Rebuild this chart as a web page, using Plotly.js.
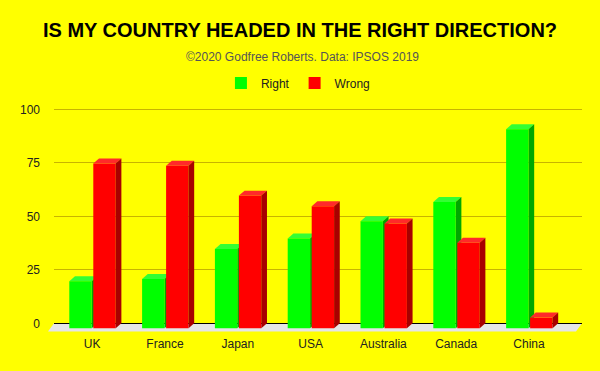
<!DOCTYPE html>
<html>
<head>
<meta charset="utf-8">
<script src="https://cdn.plot.ly/plotly-3.0.1.min.js"></script>
<style>
  html, body { margin: 0; padding: 0; background: #ffff00; }
  #chart { width: 600px; height: 371px; }
</style>
</head>
<body>
<div id="chart"></div>
<script>
// ---- data ----
const countries = ['UK', 'France', 'Japan', 'USA', 'Australia', 'Canada', 'China'];
const rightVals = [22, 23, 37, 42, 50, 59, 93];
const wrongVals = [77, 76, 62, 57, 49, 40, 5];
const yTickVals = [0, 25, 50, 75, 100];
const seriesNames = ['Right', 'Wrong'];
const titleText = 'IS MY COUNTRY HEADED IN THE RIGHT DIRECTION?';
const subtitleText = '©2020 Godfree Roberts. Data: IPSOS 2019';

// ---- styling / geometry ----
const idx = countries.map((_, i) => i);
const barW = 0.3077;
const offsets = [-0.3145, 0.0151];
const depthX = 0.078;   // x units
const depthY = 2.336;   // y units (front plane sits this much below the back plane)
const colors = {
  Right: { front: '#00ff00', top: '#33ff33', side: '#00a800' },
  Wrong: { front: '#ff0000', top: '#ff2a2a', side: '#a80000' }
};

// faces drawn on the back axis 'y': front-plane value v sits at v - depthY there
function faceShapes(vals, off, c, layer) {
  const out = [];
  vals.forEach((v, i) => {
    const xl = idx[i] + off, xr = xl + barW;
    const yf = v - depthY;
    out.push({
      type: 'path', xref: 'x', yref: 'y', layer: layer,
      path: `M${xl},${yf} L${xr},${yf} L${xr + depthX},${v} L${xl + depthX},${v} Z`,
      fillcolor: c.top, line: { width: 0 }
    });
    out.push({
      type: 'path', xref: 'x', yref: 'y', layer: layer,
      path: `M${xr},${-depthY} L${xr},${yf} L${xr + depthX},${v} L${xr + depthX},0 Z`,
      fillcolor: c.side, line: { width: 0 }
    });
  });
  return out;
}

const floorShape = {
  type: 'path', xref: 'paper', yref: 'paper', layer: 'below',
  path: 'M0,0.0498 L1,0.0498 L0.9886,0.0145 L-0.0114,0.0145 Z',
  fillcolor: '#e6e6e6', line: { width: 0 }
};

const shapes = [floorShape]
  .concat(faceShapes(rightVals, offsets[0], colors.Right, 'between'))
  .concat(faceShapes(wrongVals, offsets[1], colors.Wrong, 'above'));

const traces = [
  // empty trace that keeps the back (gridline) axis in use
  { type: 'scatter', mode: 'markers', x: [], y: [], yaxis: 'y', showlegend: false, hoverinfo: 'skip' },
  {
    type: 'bar', name: seriesNames[0], x: idx, y: rightVals, yaxis: 'y2',
    width: barW, offset: offsets[0],
    marker: { color: colors.Right.front, line: { width: 0 } }
  },
  {
    type: 'bar', name: seriesNames[1], x: idx, y: wrongVals, yaxis: 'y2',
    width: barW, offset: offsets[1],
    marker: { color: colors.Wrong.front, line: { width: 0 } }
  }
];

const layout = {
  width: 600, height: 371,
  paper_bgcolor: '#ffff00', plot_bgcolor: 'rgba(0,0,0,0)',
  margin: { l: 54, r: 18, t: 100, b: 36, pad: 0 },
  font: { family: '"Liberation Sans", Arial, sans-serif', size: 12, color: '#222222' },
  title: {
    text: titleText, x: 0.5, xanchor: 'center', xref: 'container',
    y: 0.919, yanchor: 'middle', yref: 'container',
    font: { family: '"Liberation Sans", Arial, sans-serif', size: 20, weight: 700, color: '#000000' }
  },
  annotations: [{
    text: subtitleText, xref: 'paper', yref: 'paper', x: 0.4697, y: 1.183,
    xanchor: 'center', yanchor: 'middle', showarrow: false,
    font: { size: 12, color: '#555555' }
  }],
  showlegend: true,
  legend: {
    orientation: 'h', x: 0.462, xanchor: 'center', y: 1.072, yanchor: 'middle',
    font: { size: 12, color: '#222222' }, bgcolor: 'rgba(0,0,0,0)'
  },
  xaxis: {
    type: 'linear', range: [-0.5247, 6.728], tickvals: idx, ticktext: countries,
    showgrid: false, zeroline: false, showline: false, ticks: '',
    ticklabelstandoff: 0, tickfont: { size: 12, color: '#222222' }, fixedrange: true
  },
  yaxis: {
    range: [-5.467, 104.35], tickvals: yTickVals, ticktext: yTickVals.map(String),
    showgrid: true, gridcolor: '#c8b400', gridwidth: 1,
    zeroline: true, zerolinecolor: '#000000', zerolinewidth: 1,
    showline: false, ticks: '', ticklabelstandoff: 13,
    tickfont: { size: 12, color: '#222222' }, fixedrange: true
  },
  yaxis2: {
    range: [-3.131, 106.68], overlaying: 'y', side: 'left',
    visible: false, showgrid: false, zeroline: false, fixedrange: true
  },
  shapes: shapes
};

Plotly.newPlot('chart', traces, layout, { staticPlot: true, displayModeBar: false });
</script>
</body>
</html>
